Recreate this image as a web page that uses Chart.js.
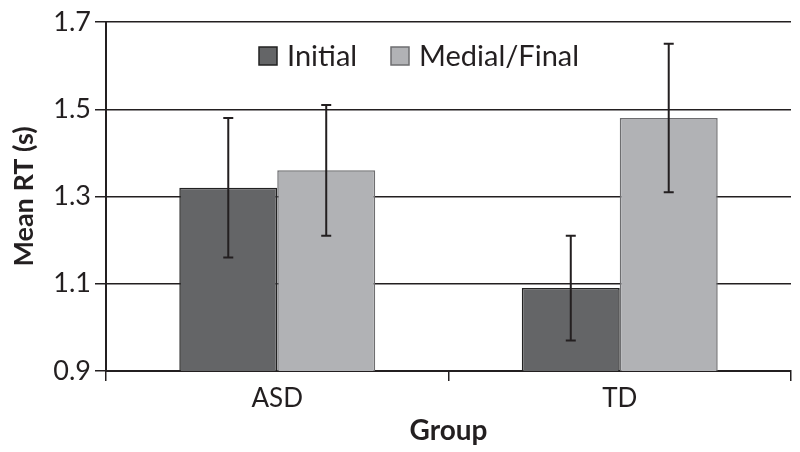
<!DOCTYPE html>
<html>
<head>
<meta charset="utf-8">
<script src="https://cdn.jsdelivr.net/npm/chart.js@4.4.0/dist/chart.umd.min.js"></script>
<style>
  html, body { margin: 0; padding: 0; background: #fff; }
  #wrap { width: 800px; height: 452px; }
</style>
</head>
<body>
<div id="wrap"><canvas id="cv"></canvas></div>
<script>
// ---------- Données ----------
const groups      = ['ASD', 'TD'];
const initialMean = [1.32, 1.09];
const initialLo   = [1.16, 0.97];
const initialHi   = [1.48, 1.21];
const medialMean  = [1.36, 1.48];
const medialLo    = [1.21, 1.31];
const medialHi    = [1.51, 1.65];
const yTicks      = [0.9, 1.1, 1.3, 1.5, 1.7];

const INK  = '#231f20';
const FONT = 'Lato, "Open Sans", sans-serif';

// ---------- Barres d'erreur ----------
const errorBars = {
  id: 'errorBars',
  afterDatasetsDraw(chart) {
    const { ctx, scales: { y } } = chart;
    ctx.save();
    ctx.strokeStyle = INK;
    ctx.lineWidth = 2;
    chart.data.datasets.forEach((ds, i) => {
      chart.getDatasetMeta(i).data.forEach((bar, j) => {
        const yLo = y.getPixelForValue(ds.errLo[j]);
        const yHi = y.getPixelForValue(ds.errHi[j]);
        const x = bar.x, w = 5;
        ctx.beginPath();
        ctx.moveTo(x, yLo); ctx.lineTo(x, yHi);
        ctx.moveTo(x - w, yLo); ctx.lineTo(x + w, yLo);
        ctx.moveTo(x - w, yHi); ctx.lineTo(x + w, yHi);
        ctx.stroke();
      });
    });
    ctx.restore();
  }
};

// ---------- Légende dans la zone du graphique ----------
const innerLegend = {
  id: 'innerLegend',
  afterDraw(chart) {
    const { ctx } = chart;
    const pos = [259, 391];
    ctx.save();
    ctx.font = '29px ' + FONT;
    ctx.textBaseline = 'middle';
    chart.data.datasets.forEach((ds, i) => {
      const x = pos[i], y = 56;
      ctx.fillStyle = ds.backgroundColor;
      ctx.fillRect(x, y - 9, 18, 18);
      ctx.strokeStyle = ds.borderColor;
      ctx.lineWidth = 1.5;
      ctx.strokeRect(x, y - 9, 18, 18);
      ctx.fillStyle = INK;
      ctx.fillText(ds.label, x + 28, y + 1);
    });
    ctx.restore();
  }
};

new Chart(document.getElementById('cv'), {
  type: 'bar',
  data: {
    labels: groups,
    datasets: [
      { label: 'Initial', data: initialMean, errLo: initialLo, errHi: initialHi,
        backgroundColor: '#646567', borderColor: '#222222', borderWidth: 1.5 },
      { label: 'Medial/Final', data: medialMean, errLo: medialLo, errHi: medialHi,
        backgroundColor: '#b1b2b5', borderColor: '#6e6e70', borderWidth: 1.5 }
    ]
  },
  options: {
    responsive: true,
    maintainAspectRatio: false,
    animation: false,
    datasets: { bar: { barPercentage: 1, categoryPercentage: 0.572 } },
    layout: { padding: { top: 22, right: 9, left: 0, bottom: 0 } },
    plugins: { legend: { display: false }, tooltip: { enabled: false } },
    scales: {
      x: {
        grid: { offset: true, drawOnChartArea: false, drawTicks: true, tickLength: 10, color: INK, lineWidth: 1.5 },
        border: { color: INK, width: 2 },
        ticks: { color: INK, font: { family: FONT, size: 26 }, padding: 2 },
        title: { display: true, text: 'Group', color: INK, font: { family: FONT, size: 28, weight: 'bold' }, padding: { top: -3 } },
        afterFit(s) { s.height = 81; }
      },
      y: {
        min: 0.9, max: 1.7,
        afterBuildTicks(s) { s.ticks = yTicks.map(v => ({ value: v })); },
        grid: { color: INK, lineWidth: 1.5, tickLength: 11 },
        border: { color: INK, width: 2 },
        ticks: { color: INK, font: { family: FONT, size: 27 }, padding: 4, callback: v => v.toFixed(1) },
        title: { display: true, text: 'Mean RT (s)', color: INK, font: { family: FONT, size: 27, weight: 'bold' }, padding: { top: 8 } },
        afterFit(s) { s.width = 106; }
      }
    }
  },
  plugins: [errorBars, innerLegend]
});
</script>
</body>
</html>
